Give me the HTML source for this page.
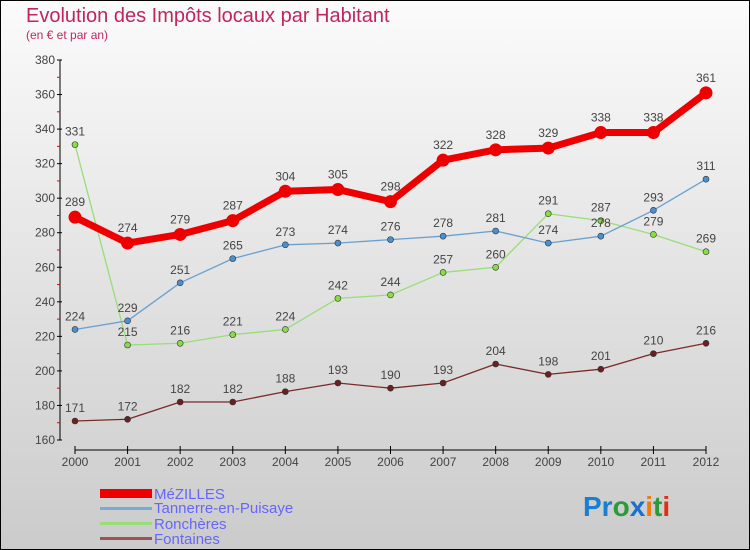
<!DOCTYPE html>
<html><head><meta charset="utf-8"><style>
body{margin:0;}
#c{width:750px;height:550px;position:relative;overflow:hidden;font-family:"Liberation Sans",sans-serif;}
</style></head><body>
<div id="c">
<svg id="s" width="750" height="550" xmlns="http://www.w3.org/2000/svg">
<defs><linearGradient id="bg" x1="0" y1="0" x2="0" y2="1"><stop offset="0" stop-color="#fbfbfb"/><stop offset="1" stop-color="#cbcbcb"/></linearGradient></defs>
<rect x="0.5" y="0.5" width="749" height="549" fill="url(#bg)" stroke="#000"/>
<text x="26" y="22" font-size="20" fill="#c0255f">Evolution des Impôts locaux par Habitant</text>
<text x="26" y="39" font-size="12" fill="#c0255f">(en € et par an)</text>
<g id="axes"></g><g id="series"></g>
<g>
<rect x="100" y="489" width="52" height="9" fill="#e00"/>
<text x="154" y="499" font-size="15" fill="#6666ff">MéZILLES</text>
<rect x="100" y="507" width="52" height="3" fill="#7aabd4"/>
<text x="154" y="513" font-size="15" fill="#6666ff">Tannerre-en-Puisaye</text>
<rect x="100" y="522" width="52" height="3" fill="#99dd77"/>
<text x="154" y="529" font-size="15" fill="#6666ff">Ronchères</text>
<rect x="100" y="537" width="52" height="3" fill="#995555"/>
<text x="154" y="544" font-size="15" fill="#6666ff">Fontaines</text>
</g>
<g font-size="28" font-weight="bold">
<text x="583" y="516"><tspan fill="#1a7fd0">Pr</tspan><tspan fill="#2a9a3a">o</tspan><tspan fill="#1a6fd0">x</tspan><tspan fill="#f07a10">i</tspan><tspan fill="#2a9a3a">t</tspan><tspan fill="#e03010">i</tspan></text>
</g>
</svg>
</div>
<script>
const years=["2000","2001","2002","2003","2004","2005","2006","2007","2008","2009","2010","2011","2012"];
const yTicks=[160,180,200,220,240,260,280,300,320,340,360,380];
const mezilles=[289,274,279,287,304,305,298,322,328,329,338,338,361];
const tannerre=[224,229,251,265,273,274,276,278,281,274,278,293,311];
const ronchieres=[331,215,216,221,224,242,244,257,260,291,287,279,269];
const fontaines=[171,172,182,182,188,193,190,193,204,198,201,210,216];
const NS="http://www.w3.org/2000/svg";
const X0=75,X1=706,Y0=60,Y1=440,VMIN=160,VMAX=380;
function xs(i){return X0+(X1-X0)*i/(years.length-1);}
function ys(v){return Y1-(v-VMIN)*(Y1-Y0)/(VMAX-VMIN);}
function mk(tag,attrs,parent){const e=document.createElementNS(NS,tag);for(const k in attrs)e.setAttribute(k,attrs[k]);parent.appendChild(e);return e;}
const ax=document.getElementById('axes');
let e=mk('line',{x1:60,y1:Y0,x2:60,y2:Y1,stroke:'#000','stroke-width':1},ax);


e=mk('line',{x1:X0,y1:450,x2:X1,y2:450,stroke:'#000','stroke-width':1},ax);


yTicks.forEach((v,i)=>{
 const y=ys(v);
 mk('line',{x1:57,y1:y,x2:62,y2:y,stroke:'#000'},ax);
 if(i<yTicks.length-1){mk('line',{x1:57,y1:ys(v+10),x2:60,y2:ys(v+10),stroke:'#e00'},ax);}
 const t=mk('text',{x:55,y:y+4,'font-size':12,fill:'#444','text-anchor':'end'},ax);t.textContent=v;
 
 
});
years.forEach((yr,i)=>{
 const x=xs(i);
 mk('line',{x1:x,y1:446,x2:x,y2:454,stroke:'#000'},ax);
 const t=mk('text',{x:x,y:466,'font-size':12,fill:'#444','text-anchor':'middle'},ax);t.textContent=yr;
 
 
});
const sg=document.getElementById('series');
function draw(data,name,color,w,r,dot,labelAbove){
 const g=mk('g',{},sg);
 
 
 const pl=mk('polyline',{points:data.map((v,i)=>xs(i)+','+ys(v)).join(' '),fill:'none',stroke:color,'stroke-width':w,'stroke-linejoin':'round'},g);
 
 
 data.forEach((v,i)=>{
  const c=mk('circle',{cx:xs(i),cy:ys(v),r:r,fill:dot,stroke:'#333','stroke-width':r>4?0:0.6},g);
  
  
  const t=mk('text',{x:xs(i),y:ys(v)-9-(r>4?2:0),'font-size':12,fill:'#444','text-anchor':'middle'},g);t.textContent=v;
  
  
 });
}
draw(fontaines,'fontaines','#7a2a2a',1.3,3,'#6a2020');
draw(ronchieres,'ronchieres','#99dd77',1.3,3,'#88dd44');
draw(tannerre,'tannerre','#6aa0d0',1.3,3,'#4a90d0');
draw(mezilles,'mezilles','#ee0000',7,6.5,'#ee0000');
</script>
</body></html>
